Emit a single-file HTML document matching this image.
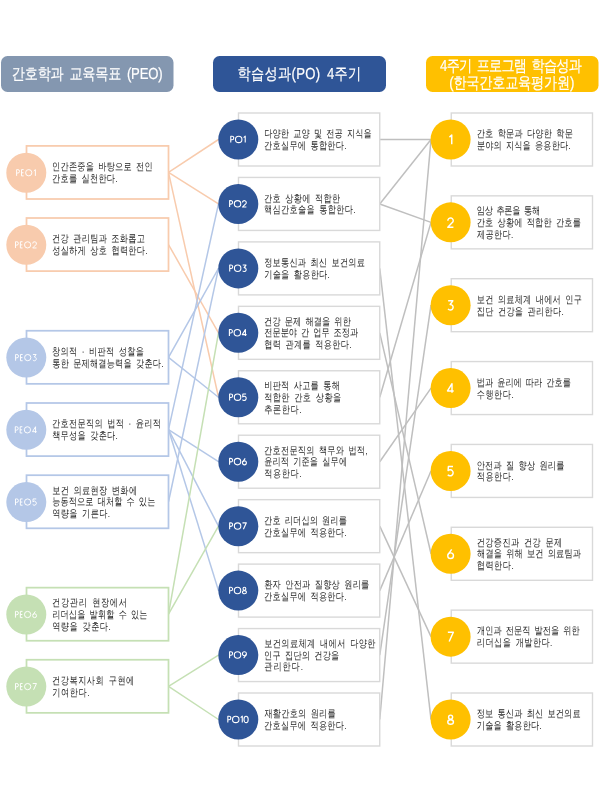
<!DOCTYPE html>
<html lang="ko"><head><meta charset="utf-8"><title>PEO PO</title>
<style>
html,body{margin:0;padding:0;background:#fff;width:600px;height:800px;overflow:hidden}
svg{display:block;will-change:transform}
text{font-family:"Liberation Sans",sans-serif;text-rendering:geometricPrecision}
.t{fill:#242424;font-size:10.5px;word-spacing:2.2px}
.h{fill:#fff;font-size:16px;stroke:#fff;stroke-width:0.2px;word-spacing:3px}
.pl{fill:#fff;font-size:10px}
.ol{fill:#fff;font-size:10px}
.dl{fill:#fff;font-size:15px}
</style></head><body>
<svg width="600" height="800" viewBox="0 0 600 800">
<rect x="1" y="56" width="172.5" height="36" rx="6.5" fill="#8497B0"/>
<rect x="213" y="56" width="173" height="36" rx="6.5" fill="#2F5597"/>
<rect x="426" y="56" width="172.5" height="36" rx="6.5" fill="#FFC000"/>
<text transform="translate(11.84,79.30) scale(0.82,1)" class="h" textLength="183.85" lengthAdjust="spacing">간호학과 교육목표 (PEO)</text>
<text transform="translate(237.58,78.80) scale(0.82,1)" class="h" textLength="150.76" lengthAdjust="spacing">학습성과(PO) 4주기</text>
<text transform="translate(440.08,70.72) scale(0.82,1)" class="h" textLength="172.86" lengthAdjust="spacing">4주기 프로그램 학습성과</text>
<text transform="translate(449.21,87.80) scale(0.82,1)" class="h" textLength="152.49" lengthAdjust="spacing">(한국간호교육평가원)</text>
<line x1="168.5" y1="172.45" x2="218.5" y2="139.50" stroke="#F8CBAD" stroke-width="1.5"/>
<line x1="168.5" y1="172.45" x2="218.5" y2="203.94" stroke="#F8CBAD" stroke-width="1.5"/>
<line x1="168.5" y1="172.45" x2="218.5" y2="397.28" stroke="#F8CBAD" stroke-width="1.5"/>
<line x1="168.5" y1="244.55" x2="218.5" y2="332.83" stroke="#F8CBAD" stroke-width="1.5"/>
<line x1="168.5" y1="357.30" x2="218.5" y2="268.39" stroke="#B4C7E7" stroke-width="1.5"/>
<line x1="168.5" y1="357.30" x2="218.5" y2="397.28" stroke="#B4C7E7" stroke-width="1.5"/>
<line x1="168.5" y1="429.55" x2="218.5" y2="203.94" stroke="#B4C7E7" stroke-width="1.5"/>
<line x1="168.5" y1="429.55" x2="218.5" y2="461.72" stroke="#B4C7E7" stroke-width="1.5"/>
<line x1="168.5" y1="429.55" x2="218.5" y2="526.17" stroke="#B4C7E7" stroke-width="1.5"/>
<line x1="168.5" y1="429.55" x2="218.5" y2="590.61" stroke="#B4C7E7" stroke-width="1.5"/>
<line x1="168.5" y1="501.75" x2="218.5" y2="268.39" stroke="#B4C7E7" stroke-width="1.5"/>
<line x1="168.5" y1="614.20" x2="218.5" y2="332.83" stroke="#C5E0B4" stroke-width="1.5"/>
<line x1="168.5" y1="614.20" x2="218.5" y2="526.17" stroke="#C5E0B4" stroke-width="1.5"/>
<line x1="168.5" y1="686.30" x2="218.5" y2="655.06" stroke="#C5E0B4" stroke-width="1.5"/>
<line x1="168.5" y1="686.30" x2="218.5" y2="719.50" stroke="#C5E0B4" stroke-width="1.5"/>
<line x1="379.75" y1="139.50" x2="431" y2="139.50" stroke="#BFBFBF" stroke-width="1.5"/>
<line x1="379.75" y1="203.94" x2="431" y2="139.50" stroke="#BFBFBF" stroke-width="1.5"/>
<line x1="379.75" y1="203.94" x2="431" y2="222.36" stroke="#BFBFBF" stroke-width="1.5"/>
<line x1="379.75" y1="268.39" x2="431" y2="719.50" stroke="#BFBFBF" stroke-width="1.5"/>
<line x1="379.75" y1="332.83" x2="431" y2="553.79" stroke="#BFBFBF" stroke-width="1.5"/>
<line x1="379.75" y1="397.28" x2="431" y2="222.36" stroke="#BFBFBF" stroke-width="1.5"/>
<line x1="379.75" y1="461.72" x2="431" y2="388.07" stroke="#BFBFBF" stroke-width="1.5"/>
<line x1="379.75" y1="526.17" x2="431" y2="636.64" stroke="#BFBFBF" stroke-width="1.5"/>
<line x1="379.75" y1="590.61" x2="431" y2="470.93" stroke="#BFBFBF" stroke-width="1.5"/>
<line x1="379.75" y1="655.06" x2="431" y2="305.21" stroke="#BFBFBF" stroke-width="1.5"/>
<line x1="379.75" y1="719.50" x2="431" y2="139.50" stroke="#BFBFBF" stroke-width="1.5"/>
<rect x="26.5" y="145.9" width="142" height="53.1" fill="#fff" stroke="#F8CBAD" stroke-width="1.75"/>
<circle cx="26.3" cy="172.75" r="20" fill="#F8CBAD"/>
<rect x="26.5" y="218.0" width="142" height="53.1" fill="#fff" stroke="#F8CBAD" stroke-width="1.75"/>
<circle cx="26.3" cy="244.85" r="20" fill="#F8CBAD"/>
<rect x="26.5" y="330.75" width="142" height="53.1" fill="#fff" stroke="#B4C7E7" stroke-width="1.75"/>
<circle cx="26.3" cy="357.60" r="20" fill="#B4C7E7"/>
<rect x="26.5" y="403.0" width="142" height="53.1" fill="#fff" stroke="#B4C7E7" stroke-width="1.75"/>
<circle cx="26.3" cy="429.85" r="20" fill="#B4C7E7"/>
<rect x="26.5" y="475.2" width="142" height="53.1" fill="#fff" stroke="#B4C7E7" stroke-width="1.75"/>
<circle cx="26.3" cy="502.05" r="20" fill="#B4C7E7"/>
<rect x="26.5" y="587.65" width="142" height="53.1" fill="#fff" stroke="#C5E0B4" stroke-width="1.75"/>
<circle cx="26.3" cy="614.50" r="20" fill="#C5E0B4"/>
<rect x="26.5" y="659.75" width="142" height="53.1" fill="#fff" stroke="#C5E0B4" stroke-width="1.75"/>
<circle cx="26.3" cy="686.60" r="20" fill="#C5E0B4"/>
<rect x="238.5" y="113.00" width="141.25" height="53" fill="#fff" stroke="#D9D9D9" stroke-width="1.4"/>
<circle cx="238.3" cy="139.50" r="20" fill="#2F5597"/>
<rect x="238.5" y="177.44" width="141.25" height="53" fill="#fff" stroke="#D9D9D9" stroke-width="1.4"/>
<circle cx="238.3" cy="203.94" r="20" fill="#2F5597"/>
<rect x="238.5" y="241.89" width="141.25" height="53" fill="#fff" stroke="#D9D9D9" stroke-width="1.4"/>
<circle cx="238.3" cy="268.39" r="20" fill="#2F5597"/>
<rect x="238.5" y="306.33" width="141.25" height="53" fill="#fff" stroke="#D9D9D9" stroke-width="1.4"/>
<circle cx="238.3" cy="332.83" r="20" fill="#2F5597"/>
<rect x="238.5" y="370.78" width="141.25" height="53" fill="#fff" stroke="#D9D9D9" stroke-width="1.4"/>
<circle cx="238.3" cy="397.28" r="20" fill="#2F5597"/>
<rect x="238.5" y="435.22" width="141.25" height="53" fill="#fff" stroke="#D9D9D9" stroke-width="1.4"/>
<circle cx="238.3" cy="461.72" r="20" fill="#2F5597"/>
<rect x="238.5" y="499.67" width="141.25" height="53" fill="#fff" stroke="#D9D9D9" stroke-width="1.4"/>
<circle cx="238.3" cy="526.17" r="20" fill="#2F5597"/>
<rect x="238.5" y="564.11" width="141.25" height="53" fill="#fff" stroke="#D9D9D9" stroke-width="1.4"/>
<circle cx="238.3" cy="590.61" r="20" fill="#2F5597"/>
<rect x="238.5" y="628.56" width="141.25" height="53" fill="#fff" stroke="#D9D9D9" stroke-width="1.4"/>
<circle cx="238.3" cy="655.06" r="20" fill="#2F5597"/>
<rect x="238.5" y="693.00" width="141.25" height="53" fill="#fff" stroke="#D9D9D9" stroke-width="1.4"/>
<circle cx="238.3" cy="719.50" r="20" fill="#2F5597"/>
<rect x="451.25" y="113.00" width="141.25" height="53" fill="#fff" stroke="#D9D9D9" stroke-width="1.4"/>
<circle cx="450.6" cy="139.50" r="20" fill="#FFC000"/>
<rect x="451.25" y="195.86" width="141.25" height="53" fill="#fff" stroke="#D9D9D9" stroke-width="1.4"/>
<circle cx="450.6" cy="222.36" r="20" fill="#FFC000"/>
<rect x="451.25" y="278.71" width="141.25" height="53" fill="#fff" stroke="#D9D9D9" stroke-width="1.4"/>
<circle cx="450.6" cy="305.21" r="20" fill="#FFC000"/>
<rect x="451.25" y="361.57" width="141.25" height="53" fill="#fff" stroke="#D9D9D9" stroke-width="1.4"/>
<circle cx="450.6" cy="388.07" r="20" fill="#FFC000"/>
<rect x="451.25" y="444.43" width="141.25" height="53" fill="#fff" stroke="#D9D9D9" stroke-width="1.4"/>
<circle cx="450.6" cy="470.93" r="20" fill="#FFC000"/>
<rect x="451.25" y="527.29" width="141.25" height="53" fill="#fff" stroke="#D9D9D9" stroke-width="1.4"/>
<circle cx="450.6" cy="553.79" r="20" fill="#FFC000"/>
<rect x="451.25" y="610.14" width="141.25" height="53" fill="#fff" stroke="#D9D9D9" stroke-width="1.4"/>
<circle cx="450.6" cy="636.64" r="20" fill="#FFC000"/>
<rect x="451.25" y="693.00" width="141.25" height="53" fill="#fff" stroke="#D9D9D9" stroke-width="1.4"/>
<circle cx="450.6" cy="719.50" r="20" fill="#FFC000"/>
<g fill="none" stroke="#fff" stroke-width="1.397" stroke-linejoin="round"><g transform="translate(16.615,172.750) scale(0.68)"><path d="M0,4.6 V-4.6 H1.8 A2.5,2.5 0 0 1 1.8,0.4 H0"/></g><g transform="translate(21.489,172.750) scale(0.68)"><path d="M3.2,-4.6 H0 V4.6 H3.2 M0,0 H2.9"/></g><g transform="translate(25.615,172.750) scale(0.68)"><circle cx="4.6" cy="0" r="4.6"/></g><g transform="translate(33.821,172.750) scale(0.68)"><path d="M0,-2.6 L2.3,-4.6 V4.6"/></g></g>
<g fill="none" stroke="#fff" stroke-width="1.397" stroke-linejoin="round"><g transform="translate(15.493,244.850) scale(0.68)"><path d="M0,4.6 V-4.6 H1.8 A2.5,2.5 0 0 1 1.8,0.4 H0"/></g><g transform="translate(20.367,244.850) scale(0.68)"><path d="M3.2,-4.6 H0 V4.6 H3.2 M0,0 H2.9"/></g><g transform="translate(24.493,244.850) scale(0.68)"><circle cx="4.6" cy="0" r="4.6"/></g><g transform="translate(32.699,244.850) scale(0.68)"><path d="M0.05,-1.9 A2.7,2.7 0 1 1 5.2,-0.76 L0,4.6 H5.6"/></g></g>
<g fill="none" stroke="#fff" stroke-width="1.397" stroke-linejoin="round"><g transform="translate(15.595,357.600) scale(0.68)"><path d="M0,4.6 V-4.6 H1.8 A2.5,2.5 0 0 1 1.8,0.4 H0"/></g><g transform="translate(20.469,357.600) scale(0.68)"><path d="M3.2,-4.6 H0 V4.6 H3.2 M0,0 H2.9"/></g><g transform="translate(24.595,357.600) scale(0.68)"><circle cx="4.6" cy="0" r="4.6"/></g><g transform="translate(32.801,357.600) scale(0.68)"><path d="M0.2,-4.6 H4.9 L2.2,-0.95 A2.8,2.8 0 1 1 0.1,3.5"/></g></g>
<g fill="none" stroke="#fff" stroke-width="1.397" stroke-linejoin="round"><g transform="translate(15.289,429.850) scale(0.68)"><path d="M0,4.6 V-4.6 H1.8 A2.5,2.5 0 0 1 1.8,0.4 H0"/></g><g transform="translate(20.163,429.850) scale(0.68)"><path d="M3.2,-4.6 H0 V4.6 H3.2 M0,0 H2.9"/></g><g transform="translate(24.289,429.850) scale(0.68)"><circle cx="4.6" cy="0" r="4.6"/></g><g transform="translate(32.495,429.850) scale(0.68)"><path d="M4.5,4.6 V-4.6 L0,2.7 H6.2"/></g></g>
<g fill="none" stroke="#fff" stroke-width="1.397" stroke-linejoin="round"><g transform="translate(15.493,502.050) scale(0.68)"><path d="M0,4.6 V-4.6 H1.8 A2.5,2.5 0 0 1 1.8,0.4 H0"/></g><g transform="translate(20.367,502.050) scale(0.68)"><path d="M3.2,-4.6 H0 V4.6 H3.2 M0,0 H2.9"/></g><g transform="translate(24.493,502.050) scale(0.68)"><circle cx="4.6" cy="0" r="4.6"/></g><g transform="translate(32.699,502.050) scale(0.68)"><path d="M5.2,-4.6 H0.6 L0.3,-0.5 A3,3 0 1 1 0,3.6"/></g></g>
<g fill="none" stroke="#fff" stroke-width="1.397" stroke-linejoin="round"><g transform="translate(15.459,614.500) scale(0.68)"><path d="M0,4.6 V-4.6 H1.8 A2.5,2.5 0 0 1 1.8,0.4 H0"/></g><g transform="translate(20.333,614.500) scale(0.68)"><path d="M3.2,-4.6 H0 V4.6 H3.2 M0,0 H2.9"/></g><g transform="translate(24.459,614.500) scale(0.68)"><circle cx="4.6" cy="0" r="4.6"/></g><g transform="translate(32.665,614.500) scale(0.68)"><path d="M3.9,-4.6 L0.35,0.6"/><circle cx="2.85" cy="1.75" r="2.85"/></g></g>
<g fill="none" stroke="#fff" stroke-width="1.397" stroke-linejoin="round"><g transform="translate(15.527,686.600) scale(0.68)"><path d="M0,4.6 V-4.6 H1.8 A2.5,2.5 0 0 1 1.8,0.4 H0"/></g><g transform="translate(20.401,686.600) scale(0.68)"><path d="M3.2,-4.6 H0 V4.6 H3.2 M0,0 H2.9"/></g><g transform="translate(24.527,686.600) scale(0.68)"><circle cx="4.6" cy="0" r="4.6"/></g><g transform="translate(32.733,686.600) scale(0.68)"><path d="M0,-4.6 H5.5 L1.3,4.6"/></g></g>
<g fill="none" stroke="#fff" stroke-width="1.571" stroke-linejoin="round"><g transform="translate(230.770,139.400) scale(0.7)"><path d="M0,4.6 V-4.6 H1.8 A2.5,2.5 0 0 1 1.8,0.4 H0"/></g><g transform="translate(235.480,139.400) scale(0.7)"><circle cx="4.6" cy="0" r="4.6"/></g><g transform="translate(243.620,139.400) scale(0.7)"><path d="M0,-2.6 L2.3,-4.6 V4.6"/></g></g>
<g fill="none" stroke="#fff" stroke-width="1.571" stroke-linejoin="round"><g transform="translate(229.615,203.844) scale(0.7)"><path d="M0,4.6 V-4.6 H1.8 A2.5,2.5 0 0 1 1.8,0.4 H0"/></g><g transform="translate(234.325,203.844) scale(0.7)"><circle cx="4.6" cy="0" r="4.6"/></g><g transform="translate(242.465,203.844) scale(0.7)"><path d="M0.05,-1.9 A2.7,2.7 0 1 1 5.2,-0.76 L0,4.6 H5.6"/></g></g>
<g fill="none" stroke="#fff" stroke-width="1.571" stroke-linejoin="round"><g transform="translate(229.720,268.289) scale(0.7)"><path d="M0,4.6 V-4.6 H1.8 A2.5,2.5 0 0 1 1.8,0.4 H0"/></g><g transform="translate(234.430,268.289) scale(0.7)"><circle cx="4.6" cy="0" r="4.6"/></g><g transform="translate(242.570,268.289) scale(0.7)"><path d="M0.2,-4.6 H4.9 L2.2,-0.95 A2.8,2.8 0 1 1 0.1,3.5"/></g></g>
<g fill="none" stroke="#fff" stroke-width="1.571" stroke-linejoin="round"><g transform="translate(229.405,332.733) scale(0.7)"><path d="M0,4.6 V-4.6 H1.8 A2.5,2.5 0 0 1 1.8,0.4 H0"/></g><g transform="translate(234.115,332.733) scale(0.7)"><circle cx="4.6" cy="0" r="4.6"/></g><g transform="translate(242.255,332.733) scale(0.7)"><path d="M4.5,4.6 V-4.6 L0,2.7 H6.2"/></g></g>
<g fill="none" stroke="#fff" stroke-width="1.571" stroke-linejoin="round"><g transform="translate(229.615,397.178) scale(0.7)"><path d="M0,4.6 V-4.6 H1.8 A2.5,2.5 0 0 1 1.8,0.4 H0"/></g><g transform="translate(234.325,397.178) scale(0.7)"><circle cx="4.6" cy="0" r="4.6"/></g><g transform="translate(242.465,397.178) scale(0.7)"><path d="M5.2,-4.6 H0.6 L0.3,-0.5 A3,3 0 1 1 0,3.6"/></g></g>
<g fill="none" stroke="#fff" stroke-width="1.571" stroke-linejoin="round"><g transform="translate(229.580,461.622) scale(0.7)"><path d="M0,4.6 V-4.6 H1.8 A2.5,2.5 0 0 1 1.8,0.4 H0"/></g><g transform="translate(234.290,461.622) scale(0.7)"><circle cx="4.6" cy="0" r="4.6"/></g><g transform="translate(242.430,461.622) scale(0.7)"><path d="M3.9,-4.6 L0.35,0.6"/><circle cx="2.85" cy="1.75" r="2.85"/></g></g>
<g fill="none" stroke="#fff" stroke-width="1.571" stroke-linejoin="round"><g transform="translate(229.650,526.067) scale(0.7)"><path d="M0,4.6 V-4.6 H1.8 A2.5,2.5 0 0 1 1.8,0.4 H0"/></g><g transform="translate(234.360,526.067) scale(0.7)"><circle cx="4.6" cy="0" r="4.6"/></g><g transform="translate(242.500,526.067) scale(0.7)"><path d="M0,-4.6 H5.5 L1.3,4.6"/></g></g>
<g fill="none" stroke="#fff" stroke-width="1.571" stroke-linejoin="round"><g transform="translate(229.580,590.511) scale(0.7)"><path d="M0,4.6 V-4.6 H1.8 A2.5,2.5 0 0 1 1.8,0.4 H0"/></g><g transform="translate(234.290,590.511) scale(0.7)"><circle cx="4.6" cy="0" r="4.6"/></g><g transform="translate(242.430,590.511) scale(0.7)"><ellipse cx="2.85" cy="-2.5" rx="2.0" ry="2.1"/><ellipse cx="2.85" cy="2.35" rx="2.85" ry="2.25"/></g></g>
<g fill="none" stroke="#fff" stroke-width="1.571" stroke-linejoin="round"><g transform="translate(229.580,654.956) scale(0.7)"><path d="M0,4.6 V-4.6 H1.8 A2.5,2.5 0 0 1 1.8,0.4 H0"/></g><g transform="translate(234.290,654.956) scale(0.7)"><circle cx="4.6" cy="0" r="4.6"/></g><g transform="translate(242.430,654.956) scale(0.7)"><path d="M1.8,4.6 L5.35,-0.6"/><circle cx="2.85" cy="-1.75" r="2.85"/></g></g>
<g fill="none" stroke="#fff" stroke-width="1.571" stroke-linejoin="round"><g transform="translate(227.820,719.400) scale(0.7)"><path d="M0,4.6 V-4.6 H1.8 A2.5,2.5 0 0 1 1.8,0.4 H0"/></g><g transform="translate(232.530,719.400) scale(0.7)"><circle cx="4.6" cy="0" r="4.6"/></g><g transform="translate(240.670,719.400) scale(0.7)"><path d="M0,-2.6 L2.3,-4.6 V4.6"/></g><g transform="translate(243.980,719.400) scale(0.7)"><ellipse cx="3" cy="0" rx="3" ry="4.6"/></g></g>
<g fill="none" stroke="#fff" stroke-width="1.450" stroke-linejoin="round"><g transform="translate(449.450,139.700) scale(1.0)"><path d="M0,-2.6 L2.3,-4.6 V4.6"/></g></g>
<g fill="none" stroke="#fff" stroke-width="1.450" stroke-linejoin="round"><g transform="translate(447.800,222.557) scale(1.0)"><path d="M0.05,-1.9 A2.7,2.7 0 1 1 5.2,-0.76 L0,4.6 H5.6"/></g></g>
<g fill="none" stroke="#fff" stroke-width="1.450" stroke-linejoin="round"><g transform="translate(447.950,305.414) scale(1.0)"><path d="M0.2,-4.6 H4.9 L2.2,-0.95 A2.8,2.8 0 1 1 0.1,3.5"/></g></g>
<g fill="none" stroke="#fff" stroke-width="1.450" stroke-linejoin="round"><g transform="translate(447.500,388.271) scale(1.0)"><path d="M4.5,4.6 V-4.6 L0,2.7 H6.2"/></g></g>
<g fill="none" stroke="#fff" stroke-width="1.450" stroke-linejoin="round"><g transform="translate(447.800,471.129) scale(1.0)"><path d="M5.2,-4.6 H0.6 L0.3,-0.5 A3,3 0 1 1 0,3.6"/></g></g>
<g fill="none" stroke="#fff" stroke-width="1.450" stroke-linejoin="round"><g transform="translate(447.750,553.986) scale(1.0)"><path d="M3.9,-4.6 L0.35,0.6"/><circle cx="2.85" cy="1.75" r="2.85"/></g></g>
<g fill="none" stroke="#fff" stroke-width="1.450" stroke-linejoin="round"><g transform="translate(447.850,636.843) scale(1.0)"><path d="M0,-4.6 H5.5 L1.3,4.6"/></g></g>
<g fill="none" stroke="#fff" stroke-width="1.450" stroke-linejoin="round"><g transform="translate(447.750,719.700) scale(1.0)"><ellipse cx="2.85" cy="-2.5" rx="2.0" ry="2.1"/><ellipse cx="2.85" cy="2.35" rx="2.85" ry="2.25"/></g></g>
<text transform="translate(52.11,170.17) scale(0.78,1)" class="t" textLength="128.83" lengthAdjust="spacing">인간존중을 바탕으로 전인</text>
<text transform="translate(52.12,181.97) scale(0.78,1)" class="t" textLength="83.83" lengthAdjust="spacing">간호를 실천한다.</text>
<text transform="translate(52.12,242.27) scale(0.78,1)" class="t" textLength="118.96" lengthAdjust="spacing">건강 관리팀과 조화롭고</text>
<text transform="translate(52.20,254.07) scale(0.78,1)" class="t" textLength="122.25" lengthAdjust="spacing">성실하게 상호 협력한다.</text>
<text transform="translate(52.11,355.02) scale(0.78,1)" class="t" textLength="117.68" lengthAdjust="spacing">창의적 · 비판적 성찰을</text>
<text transform="translate(52.28,366.82) scale(0.78,1)" class="t" textLength="142.57" lengthAdjust="spacing">통한 문제해결능력을 갖춘다.</text>
<text transform="translate(52.12,427.27) scale(0.78,1)" class="t" textLength="139.50" lengthAdjust="spacing">간호전문직의 법적 · 윤리적</text>
<text transform="translate(52.15,439.07) scale(0.78,1)" class="t" textLength="84.20" lengthAdjust="spacing">책무성을 갖춘다.</text>
<text transform="translate(52.17,493.57) scale(0.78,1)" class="t" textLength="108.86" lengthAdjust="spacing">보건 의료현장 변화에</text>
<text transform="translate(52.17,505.37) scale(0.78,1)" class="t" textLength="132.26" lengthAdjust="spacing">능동적으로 대처할 수 있는</text>
<text transform="translate(52.22,517.17) scale(0.78,1)" class="t" textLength="74.05" lengthAdjust="spacing">역량을 기른다.</text>
<text transform="translate(52.12,606.02) scale(0.78,1)" class="t" textLength="95.84" lengthAdjust="spacing">건강관리 현장에서</text>
<text transform="translate(52.23,617.82) scale(0.78,1)" class="t" textLength="122.22" lengthAdjust="spacing">리더십을 발휘할 수 있는</text>
<text transform="translate(52.22,629.62) scale(0.78,1)" class="t" textLength="75.02" lengthAdjust="spacing">역량을 갖춘다.</text>
<text transform="translate(52.12,684.02) scale(0.78,1)" class="t" textLength="105.39" lengthAdjust="spacing">건강복지사회 구현에</text>
<text transform="translate(52.20,695.82) scale(0.78,1)" class="t" textLength="47.73" lengthAdjust="spacing">기여한다.</text>
<text transform="translate(264.22,137.22) scale(0.78,1)" class="t" textLength="137.89" lengthAdjust="spacing">다양한 교양 및 전공 지식을</text>
<text transform="translate(264.12,149.02) scale(0.78,1)" class="t" textLength="105.62" lengthAdjust="spacing">간호실무에 통합한다.</text>
<text transform="translate(264.12,201.67) scale(0.78,1)" class="t" textLength="97.54" lengthAdjust="spacing">간호 상황에 적합한</text>
<text transform="translate(264.11,213.47) scale(0.78,1)" class="t" textLength="117.16" lengthAdjust="spacing">핵심간호술을 통합한다.</text>
<text transform="translate(264.14,266.11) scale(0.78,1)" class="t" textLength="129.20" lengthAdjust="spacing">정보통신과 최신 보건의료</text>
<text transform="translate(264.20,277.91) scale(0.78,1)" class="t" textLength="84.10" lengthAdjust="spacing">기술을 활용한다.</text>
<text transform="translate(264.12,324.66) scale(0.78,1)" class="t" textLength="111.16" lengthAdjust="spacing">건강 문제 해결을 위한</text>
<text transform="translate(264.25,336.46) scale(0.78,1)" class="t" textLength="120.46" lengthAdjust="spacing">전문분야 간 업무 조정과</text>
<text transform="translate(264.17,348.26) scale(0.78,1)" class="t" textLength="111.89" lengthAdjust="spacing">협력 관계를 적용한다.</text>
<text transform="translate(264.23,389.10) scale(0.78,1)" class="t" textLength="96.99" lengthAdjust="spacing">비판적 사고를 통해</text>
<text transform="translate(264.14,400.90) scale(0.78,1)" class="t" textLength="98.75" lengthAdjust="spacing">적합한 간호 상황을</text>
<text transform="translate(264.17,412.70) scale(0.78,1)" class="t" textLength="47.87" lengthAdjust="spacing">추론한다.</text>
<text transform="translate(264.12,453.55) scale(0.78,1)" class="t" textLength="132.57" lengthAdjust="spacing">간호전문직의 책무와 법적,</text>
<text transform="translate(264.17,465.35) scale(0.78,1)" class="t" textLength="106.29" lengthAdjust="spacing">윤리적 기준을 실무에</text>
<text transform="translate(264.14,477.15) scale(0.78,1)" class="t" textLength="48.01" lengthAdjust="spacing">적용한다.</text>
<text transform="translate(264.12,523.89) scale(0.78,1)" class="t" textLength="106.08" lengthAdjust="spacing">간호 리더십의 원리를</text>
<text transform="translate(264.12,535.69) scale(0.78,1)" class="t" textLength="105.62" lengthAdjust="spacing">간호실무에 적용한다.</text>
<text transform="translate(264.14,588.33) scale(0.78,1)" class="t" textLength="134.77" lengthAdjust="spacing">환자 안전과 질향상 원리를</text>
<text transform="translate(264.12,600.13) scale(0.78,1)" class="t" textLength="105.62" lengthAdjust="spacing">간호실무에 적용한다.</text>
<text transform="translate(264.17,646.88) scale(0.78,1)" class="t" textLength="142.75" lengthAdjust="spacing">보건의료체계 내에서 다양한</text>
<text transform="translate(264.11,658.68) scale(0.78,1)" class="t" textLength="96.35" lengthAdjust="spacing">인구 집단의 건강을</text>
<text transform="translate(264.29,670.48) scale(0.78,1)" class="t" textLength="49.56" lengthAdjust="spacing">관리한다.</text>
<text transform="translate(264.40,717.22) scale(0.78,1)" class="t" textLength="91.45" lengthAdjust="spacing">재활간호의 원리를</text>
<text transform="translate(264.12,729.02) scale(0.78,1)" class="t" textLength="105.62" lengthAdjust="spacing">간호실무에 적용한다.</text>
<text transform="translate(476.72,137.22) scale(0.78,1)" class="t" textLength="123.25" lengthAdjust="spacing">간호 학문과 다양한 학문</text>
<text transform="translate(476.88,149.02) scale(0.78,1)" class="t" textLength="120.11" lengthAdjust="spacing">분야의 지식을 응용한다.</text>
<text transform="translate(476.82,214.18) scale(0.78,1)" class="t" textLength="81.13" lengthAdjust="spacing">임상 추론을 통해</text>
<text transform="translate(476.72,225.98) scale(0.78,1)" class="t" textLength="133.54" lengthAdjust="spacing">간호 상황에 적합한 간호를</text>
<text transform="translate(477.00,237.78) scale(0.78,1)" class="t" textLength="46.65" lengthAdjust="spacing">제공한다.</text>
<text transform="translate(476.77,302.94) scale(0.78,1)" class="t" textLength="134.77" lengthAdjust="spacing">보건 의료체계 내에서 인구</text>
<text transform="translate(476.74,314.74) scale(0.78,1)" class="t" textLength="111.49" lengthAdjust="spacing">집단 건강을 관리한다.</text>
<text transform="translate(476.75,385.80) scale(0.78,1)" class="t" textLength="120.66" lengthAdjust="spacing">법과 윤리에 따라 간호를</text>
<text transform="translate(476.77,397.60) scale(0.78,1)" class="t" textLength="47.34" lengthAdjust="spacing">수행한다.</text>
<text transform="translate(476.75,468.65) scale(0.78,1)" class="t" textLength="112.27" lengthAdjust="spacing">안전과 질 향상 원리를</text>
<text transform="translate(476.74,480.45) scale(0.78,1)" class="t" textLength="47.26" lengthAdjust="spacing">적용한다.</text>
<text transform="translate(476.72,545.61) scale(0.78,1)" class="t" textLength="109.57" lengthAdjust="spacing">건강증진과 건강 문제</text>
<text transform="translate(477.10,557.41) scale(0.78,1)" class="t" textLength="133.15" lengthAdjust="spacing">해결을 위해 보건 의료팀과</text>
<text transform="translate(476.77,569.21) scale(0.78,1)" class="t" textLength="47.34" lengthAdjust="spacing">협력한다.</text>
<text transform="translate(476.89,634.37) scale(0.78,1)" class="t" textLength="131.92" lengthAdjust="spacing">개인과 전문직 발전을 위한</text>
<text transform="translate(476.83,646.17) scale(0.78,1)" class="t" textLength="96.86" lengthAdjust="spacing">리더십을 개발한다.</text>
<text transform="translate(476.74,717.22) scale(0.78,1)" class="t" textLength="133.17" lengthAdjust="spacing">정보 통신과 최신 보건의료</text>
<text transform="translate(476.80,729.02) scale(0.78,1)" class="t" textLength="83.11" lengthAdjust="spacing">기술을 활용한다.</text>
</svg>
</body></html>
